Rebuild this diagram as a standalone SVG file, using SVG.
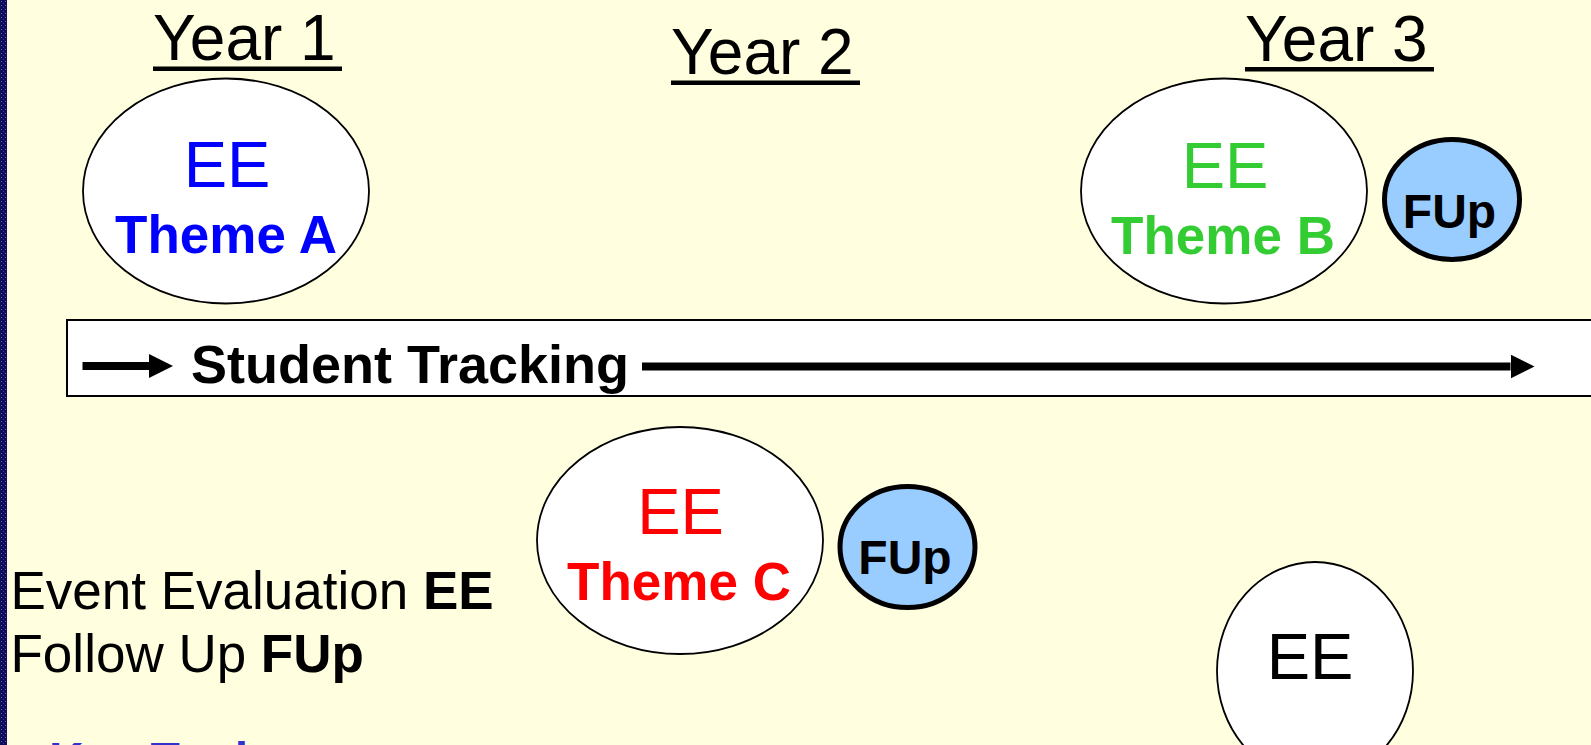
<svg xmlns="http://www.w3.org/2000/svg" width="1591" height="745" viewBox="0 0 1591 745">
<style>
  text { font-family: "Liberation Sans", Arial, sans-serif; }
  .year { font-size: 64px; fill: #000; }
  .ul { fill: #000; }
  .big { fill: #fff; stroke: #000; stroke-width: 1.8; }
  .fup { fill: #99ccff; stroke: #000; stroke-width: 5; }
  .ee { font-size: 65px; text-anchor: middle; }
  .theme { font-size: 53px; font-weight: bold; text-anchor: middle; }
  .fupt { font-size: 48px; font-weight: bold; text-anchor: middle; fill: #000; }
  .legend { font-size: 53px; fill: #000; }
  .conn { stroke: #000; stroke-width: 8; fill: none; }
</style>
<defs>
  <pattern id="dots" width="4" height="4" patternUnits="userSpaceOnUse">
    <rect width="4" height="4" fill="#0c0c5a"/>
    <rect x="1" y="1" width="1" height="1" fill="#6a6ab0"/>
    <rect x="3" y="3" width="1" height="1" fill="#3a3a88"/>
  </pattern>
  <marker id="ah" markerUnits="userSpaceOnUse" markerWidth="24" markerHeight="24" refX="0" refY="12" orient="auto">
    <polygon points="0,0 24,12 0,24" fill="#000"/>
  </marker>
</defs>
<rect width="1591" height="745" fill="#ffffe0"/>
<rect x="0" y="0" width="7" height="745" fill="url(#dots)"/>

<g id="year1">
  <text class="year" x="153" y="60">Year 1</text>
  <rect class="ul" x="153" y="66.5" width="189" height="4.5"/>
</g>
<g id="year2">
  <text class="year" x="671" y="73.5">Year 2</text>
  <rect class="ul" x="671" y="80.5" width="189" height="4.5"/>
</g>
<g id="year3">
  <text class="year" x="1245" y="61">Year 3</text>
  <rect class="ul" x="1245" y="67" width="189" height="4.5"/>
</g>

<g id="eeA">
  <ellipse class="big" cx="226" cy="191" rx="143" ry="112.5"/>
  <text class="ee" x="227" y="187" fill="#0000ff">EE</text>
  <text class="theme" x="226" y="252.5" fill="#0000ff">Theme A</text>
</g>

<g id="eeB">
  <ellipse class="big" cx="1224" cy="191" rx="143" ry="112.5"/>
  <text class="ee" x="1225" y="187.5" fill="#33cc33">EE</text>
  <text class="theme" x="1223" y="253.5" fill="#33cc33">Theme B</text>
</g>

<g id="fupB">
  <ellipse class="fup" cx="1452" cy="199.5" rx="67.5" ry="60"/>
  <text class="fupt" x="1449.5" y="228">FUp</text>
</g>

<g id="tracking">
  <rect x="67" y="320" width="1540" height="76" fill="#fff" stroke="#000" stroke-width="2"/>
  <text x="191" y="382.5" font-size="54" font-weight="bold" fill="#000">Student Tracking</text>
</g>

<g id="connectors">
  <line class="conn" x1="82.5" y1="366" x2="149" y2="366" marker-end="url(#ah)"/>
  <line class="conn" x1="642" y1="366.5" x2="1510.5" y2="366.5" marker-end="url(#ah)"/>
</g>

<g id="eeC">
  <ellipse class="big" cx="680" cy="540.5" rx="143" ry="113.5"/>
  <text class="ee" x="680.5" y="534" fill="#ff0000">EE</text>
  <text class="theme" x="679" y="600" fill="#ff0000">Theme C</text>
</g>

<g id="fupC">
  <ellipse class="fup" cx="907.5" cy="547" rx="67.5" ry="60.5"/>
  <text class="fupt" x="905" y="574">FUp</text>
</g>

<g id="eeD">
  <ellipse class="big" cx="1315" cy="671" rx="98" ry="109"/>
  <text class="ee" x="1310" y="678.5" fill="#000">EE</text>
</g>

<g id="legend">
  <text class="legend" x="10.5" y="608.5">Event Evaluation <tspan font-weight="bold">EE</tspan></text>
  <text class="legend" x="10.5" y="672">Follow Up <tspan font-weight="bold">FUp</tspan></text>
  <text x="49" y="776" font-size="48" font-weight="bold" fill="#3333cc">Key Topics</text>
</g>
</svg>
